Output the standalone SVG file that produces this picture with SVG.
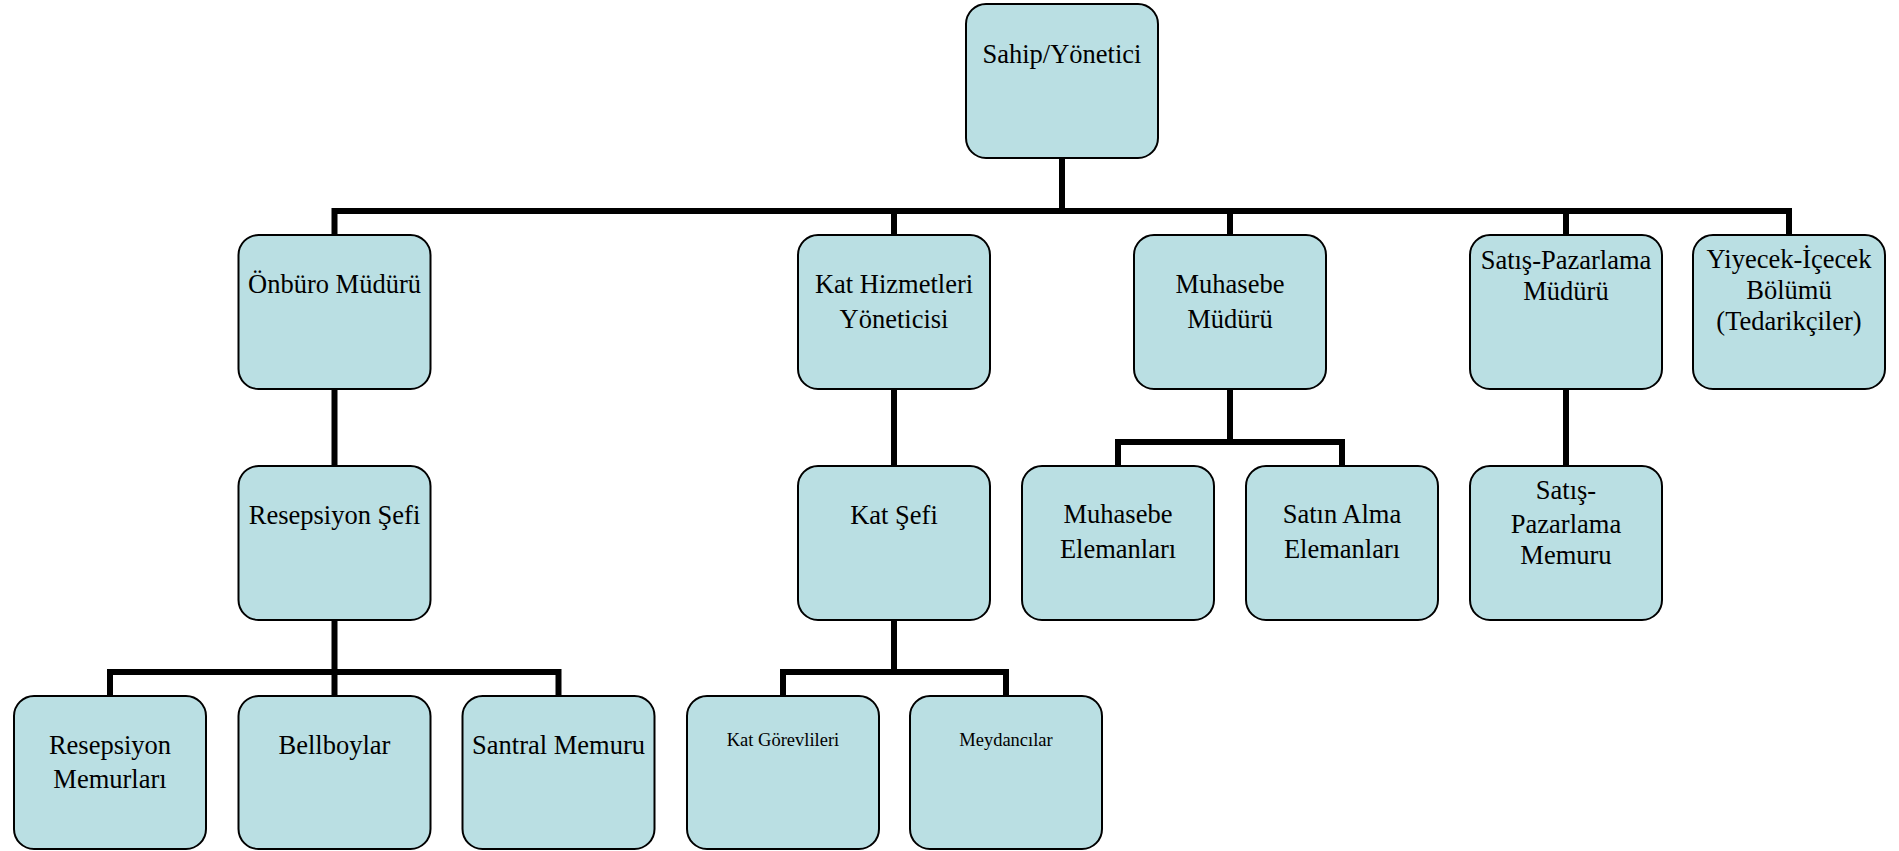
<svg xmlns="http://www.w3.org/2000/svg" width="1899" height="851" viewBox="0 0 1899 851">
<style>
.box{fill:#BADFE3;stroke:#000;stroke-width:2}
.t{font-family:"Liberation Serif","Times New Roman",serif;font-size:26.5px;fill:#000;text-anchor:middle}
.s{font-size:18.5px}
.c{fill:none;stroke:#000;stroke-width:6;stroke-linejoin:miter;stroke-linecap:butt}
</style>
<rect width="1899" height="851" fill="#fff"/>
<g id="connectors">
<path class="c" d="M1062 158V211"/>
<path class="c" d="M334.5 235V211H1789V235"/>
<path class="c" d="M894 211V235M1230 211V235M1566 211V235"/>
<path class="c" d="M334.5 389V466M894 389V466M1566 389V466"/>
<path class="c" d="M1230 389V442M1118 466V442H1342V466"/>
<path class="c" d="M334.5 620V696M110 696V672H558.5V696"/>
<path class="c" d="M894 620V672M783 696V672H1006V696"/>
</g>
<g id="n-root"><rect class="box" x="966" y="4" width="192" height="154" rx="20"/><text class="t" x="1062" y="63">Sahip/Yönetici</text></g>
<g id="n-onburo"><rect class="box" x="238.5" y="235" width="192" height="154" rx="20"/><text class="t" x="334.5" y="293">Önbüro Müdürü</text></g>
<g id="n-kathiz"><rect class="box" x="798" y="235" width="192" height="154" rx="20"/><text class="t" x="894" y="293">Kat Hizmetleri</text><text class="t" x="894" y="328">Yöneticisi</text></g>
<g id="n-muh"><rect class="box" x="1134" y="235" width="192" height="154" rx="20"/><text class="t" x="1230" y="293">Muhasebe</text><text class="t" x="1230" y="328">Müdürü</text></g>
<g id="n-satis"><rect class="box" x="1470" y="235" width="192" height="154" rx="20"/><text class="t" x="1566" y="269">Satış-Pazarlama</text><text class="t" x="1566" y="300">Müdürü</text></g>
<g id="n-yiyecek"><rect class="box" x="1693" y="235" width="192" height="154" rx="20"/><text class="t" x="1789" y="268">Yiyecek-İçecek</text><text class="t" x="1789" y="299">Bölümü</text><text class="t" x="1789" y="330">(Tedarikçiler)</text></g>
<g id="n-resefi"><rect class="box" x="238.5" y="466" width="192" height="154" rx="20"/><text class="t" x="334.5" y="524">Resepsiyon Şefi</text></g>
<g id="n-katsefi"><rect class="box" x="798" y="466" width="192" height="154" rx="20"/><text class="t" x="894" y="524">Kat Şefi</text></g>
<g id="n-muhelem"><rect class="box" x="1022" y="466" width="192" height="154" rx="20"/><text class="t" x="1118" y="523">Muhasebe</text><text class="t" x="1118" y="558">Elemanları</text></g>
<g id="n-satin"><rect class="box" x="1246" y="466" width="192" height="154" rx="20"/><text class="t" x="1342" y="523">Satın Alma</text><text class="t" x="1342" y="558">Elemanları</text></g>
<g id="n-satismem"><rect class="box" x="1470" y="466" width="192" height="154" rx="20"/><text class="t" x="1566" y="499">Satış-</text><text class="t" x="1566" y="533">Pazarlama</text><text class="t" x="1566" y="564">Memuru</text></g>
<g id="n-resmem"><rect class="box" x="14" y="696" width="192" height="153" rx="20"/><text class="t" x="110" y="754">Resepsiyon</text><text class="t" x="110" y="788">Memurları</text></g>
<g id="n-bell"><rect class="box" x="238.5" y="696" width="192" height="153" rx="20"/><text class="t" x="334.5" y="754">Bellboylar</text></g>
<g id="n-santral"><rect class="box" x="462.5" y="696" width="192" height="153" rx="20"/><text class="t" x="558.5" y="754">Santral Memuru</text></g>
<g id="n-katgor"><rect class="box" x="687" y="696" width="192" height="153" rx="20"/><text class="t s" x="783" y="746">Kat Görevlileri</text></g>
<g id="n-meyd"><rect class="box" x="910" y="696" width="192" height="153" rx="20"/><text class="t s" x="1006" y="746">Meydancılar</text></g>
</svg>
